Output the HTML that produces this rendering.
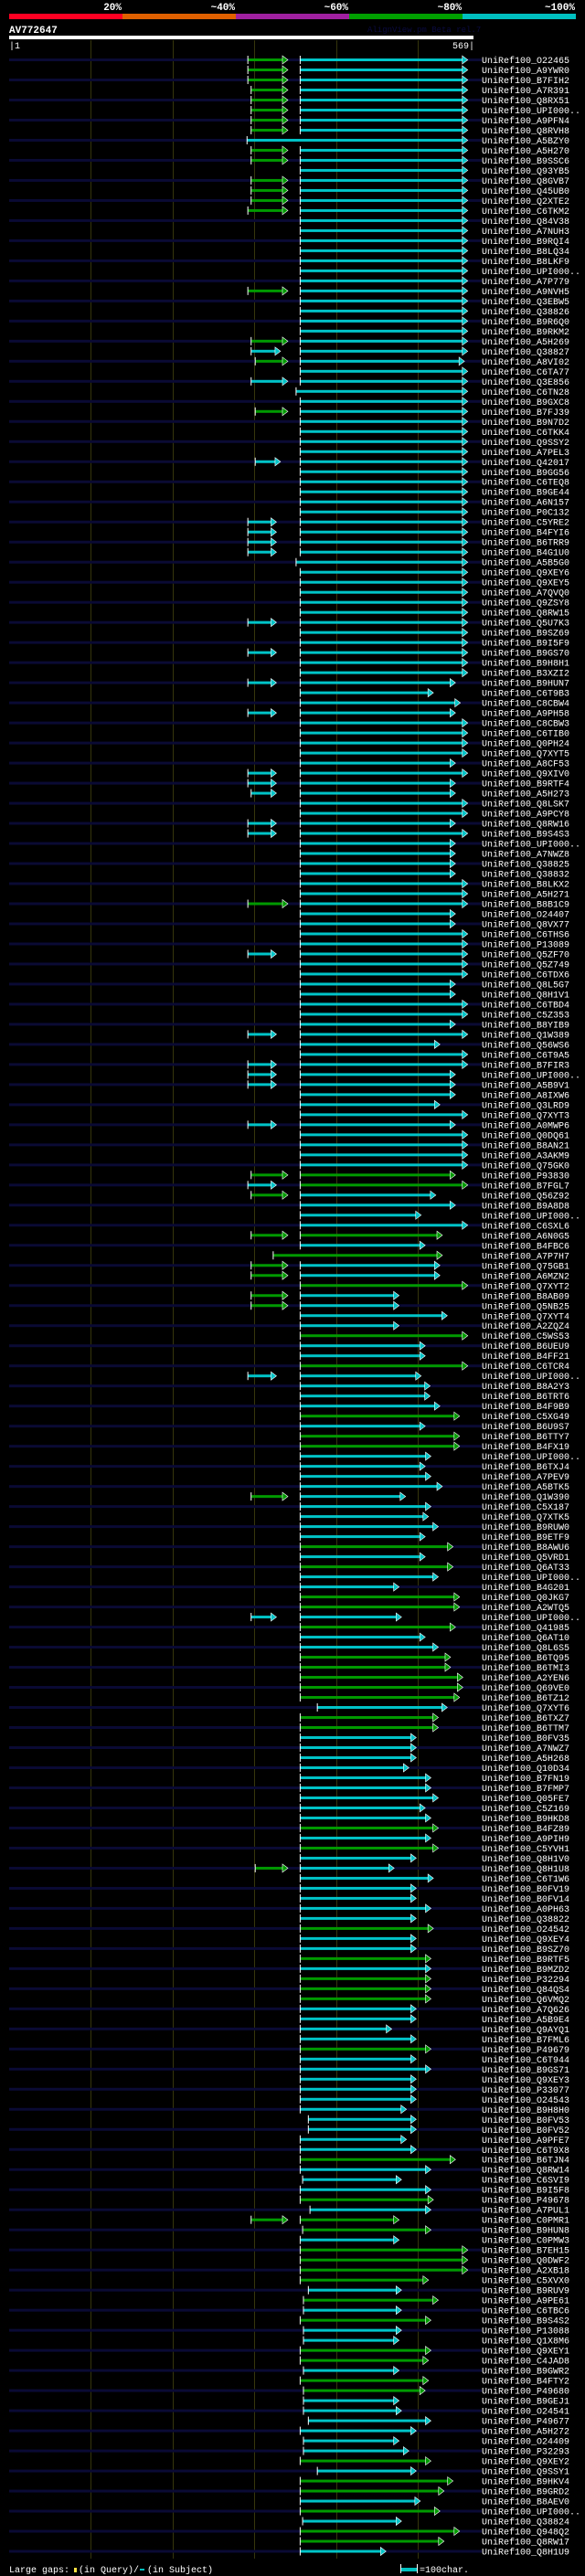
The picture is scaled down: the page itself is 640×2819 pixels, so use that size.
<!DOCTYPE html>
<html><head><meta charset="utf-8"><style>
html,body{margin:0;padding:0;background:#000;}
svg{display:block;}
text{font-family:"Liberation Mono","DejaVu Sans Mono",monospace;}
</style></head><body>
<svg id="chart" width="640" height="2819" viewBox="0 0 640 2819" xmlns="http://www.w3.org/2000/svg">
<rect x="0" y="0" width="640" height="2819" fill="#000"/>
<g>
<text x="133" y="11" fill="#fff" font-size="11" font-weight="bold" text-anchor="end">20%</text>
<text x="257" y="11" fill="#fff" font-size="11" font-weight="bold" text-anchor="end">~40%</text>
<text x="381" y="11" fill="#fff" font-size="11" font-weight="bold" text-anchor="end">~60%</text>
<text x="505" y="11" fill="#fff" font-size="11" font-weight="bold" text-anchor="end">~80%</text>
<text x="629" y="11" fill="#fff" font-size="11" font-weight="bold" text-anchor="end">~100%</text>
<rect x="10" y="15" width="124" height="6" fill="#ff0022"/>
<rect x="134" y="15" width="124" height="6" fill="#e06000"/>
<rect x="258" y="15" width="124" height="6" fill="#a020a0"/>
<rect x="382" y="15" width="124" height="6" fill="#00a000"/>
<rect x="506" y="15" width="124" height="6" fill="#00c0c0"/>
</g>
<text x="10" y="36" fill="#fff" font-size="11" font-weight="bold">AV772647</text>
<text x="402" y="35" fill="#0a0a40" font-size="9">AlignView.pm Beta rel.7</text>
<rect x="10" y="39" width="508" height="4" fill="#fff"/>
<text x="10" y="53" fill="#fff" font-size="10">|1</text>
<text x="519" y="53" fill="#fff" font-size="10" text-anchor="end">569|</text>
<g id="grid"></g>
<g id="rows"></g>
<g>
<text x="10" y="2815" fill="#fff" font-size="10">Large gaps:</text>
<rect x="81" y="2810" width="3" height="5" fill="#ffe040"/>
<text x="86" y="2815" fill="#fff" font-size="10">(in Query)/</text>
<rect x="153" y="2811" width="5" height="2" fill="#00c0c0"/>
<text x="161" y="2815" fill="#fff" font-size="10">(in Subject)</text>
<rect x="439" y="2810" width="17" height="4" fill="#00c0c0"/>
<rect x="438" y="2806" width="1" height="10" fill="#fff"/>
<rect x="456" y="2806" width="1" height="10" fill="#fff"/>
<text x="459" y="2815" fill="#fff" font-size="10">=100char.</text>
</g>
</svg>
<script>
const names = ["O22465","A9YWR0","B7FIH2","A7R391","Q8RX51","UPI000..","A9PFN4","Q8RVH8","A5BZY0","A5H270",
"B9SSC6","Q93YB5","Q8GVB7","Q45UB0","Q2XTE2","C6TKM2","Q84V38","A7NUH3","B9RQI4","B8LQ34",
"B8LKF9","UPI000..","A7P779","A9NVH5","Q3EBW5","Q38826","B9R6Q0","B9RKM2","A5H269","Q38827",
"A8VI02","C6TA77","Q3E856","C6TN28","B9GXC8","B7FJ39","B9N7D2","C6TKK4","Q9SSY2","A7PEL3",
"Q42017","B9GG56","C6TEQ8","B9GE44","A6N157","P0C132","C5YRE2","B4FYI6","B6TRR9","B4G1U0",
"A5B5G0","Q9XEY6","Q9XEY5","A7QVQ0","Q9ZSY8","Q8RW15","Q5U7K3","B9SZ69","B9I5F9","B9GS70",
"B9H8H1","B3XZI2","B9HUN7","C6T9B3","C8CBW4","A9PH58","C8CBW3","C6TIB0","Q0PH24","Q7XYT5",
"A8CF53","Q9XIV0","B9RTF4","A5H273","Q8LSK7","A9PCY8","Q8RW16","B9S4S3","UPI000..","A7NWZ8",
"Q38825","Q38832","B8LKX2","A5H271","B8B1C9","O24407","Q8VX77","C6THS6","P13089","Q5ZF70",
"Q5Z749","C6TDX6","Q8L5G7","Q8H1V1","C6TBD4","C5Z353","B8YIB9","Q1W389","Q56WS6","C6T9A5",
"B7FIR3","UPI000..","A5B9V1","A8IXW6","Q3LRD9","Q7XYT3","A0MWP6","Q0DQ61","B8AN21","A3AKM9",
"Q75GK0","P93830","B7FGL7","Q56Z92","B9A8D8","UPI000..","C6SXL6","A6N0G5","B4FBC6","A7P7H7",
"Q75GB1","A6MZN2","Q7XYT2","B8AB09","Q5NB25","Q7XYT4","A2ZQZ4","C5WS53","B6UEU9","B4FF21",
"C6TCR4","UPI000..","B8A2Y3","B6TRT6","B4F9B9","C5XG49","B6U9S7","B6TTY7","B4FX19","UPI000..",
"B6TXJ4","A7PEV9","A5BTK5","Q1W390","C5X187","Q7XTK5","B9RUW0","B9ETF9","B8AWU6","Q5VRD1",
"Q6AT33","UPI000..","B4G201","Q0JKG7","A2WTQ5","UPI000..","Q41985","Q6AT10","Q8L6S5","B6TQ95",
"B6TMI3","A2YEN6","Q69VE0","B6TZ12","Q7XYT6","B6TXZ7","B6TTM7","B0FV35","A7NWZ7","A5H268",
"Q10D34","B7FN19","B7FMP7","Q05FE7","C5Z169","B9HKD8","B4FZ89","A9PIH9","C5YVH1","Q8H1V0",
"Q8H1U8","C6T1W6","B0FV19","B0FV14","A0PH63","Q38822","O24542","Q9XEY4","B9SZ70","B9RTF5",
"B9MZD2","P32294","Q84QS4","Q6VMQ2","A7Q626","A5B9E4","Q9AYQ1","B7FML6","P49679","C6T944",
"B9GS71","Q9XEY3","P33077","O24543","B9H8H0","B0FV53","B0FV52","A9PFE7","C6T9X8","B6TJN4",
"Q8RW14","C6SVI9","B9I5F8","P49678","A7PUL1","C0PMR1","B9HUN8","C0PMW3","B7EH15","Q0DWF2",
"A2XB18","C5XVX0","B9RUV9","A9PE61","C6TBC6","B9S4S2","P13088","Q1X8M6","Q9XEY1","C4JAD8",
"B9GWR2","B4FTY2","P49680","B9GEJ1","O24541","P49677","A5H272","O24409","P32293","Q9XEY2",
"Q9SSY1","B9HKV4","B9GRD2","B8AEV0","UPI000..","Q38824","Q948Q2","Q8RW17","Q8H1U9"];
const h1Row   = [0,1,2,3,4,5,6,7,9,10,12,13,14,15,23,28,29,30,32,35,40,46,47,48,49,56,59,62,65,71,72,73,76,77,84,89,97,100,101,102,106,111,112,113,117,120,121,123,124,131,143,155,180,215];
const h1Start = [293,293,293,297,297,297,297,297,297,297,297,297,297,293,293,297,297,302,297,302,302,293,293,293,293,293,293,293,293,293,293,297,293,293,293,293,293,293,293,293,293,297,293,297,297,297,297,297,297,293,297,297,302,297];
const h1End   = [342,342,342,342,342,342,342,342,342,342,342,342,342,342,342,342,333,342,342,342,333,328,328,328,328,328,328,328,328,328,328,328,328,328,342,328,328,328,328,328,328,342,328,342,342,342,342,342,342,328,342,328,342,342];
const h1Color = "gggggggggggggggg" + "cgcgc" + "ccccccccccccc" + "g" + "cccccc" + "gcgggggg" + "c" + "g" + "c" + "gg";
const h2Start = [357,357,357,357,357,357,357,357,292,357, 357,357,357,357,357,357,357,357,357,357,
357,357,357,357,357,357,357,357,357,357, 357,357,357,352,357,357,357,357,357,357,
357,357,357,357,357,357,357,357,357,357, 352,357,357,357,357,357,357,357,357,357,
357,357,357,357,357,357,357,357,357,357, 357,357,357,357,357,357,357,357,357,357,
357,357,357,357,357,357,357,357,357,357, 357,357,357,357,357,357,357,357,357,357,
357,357,357,357,357,357,357,357,357,357, 357,357,357,357,357,357,357,357,357,324,
357,357,357,357,357,357,357,357,357,357, 357,357,357,357,357,357,357,357,357,357,
357,357,357,357,357,357,357,357,357,357, 357,357,357,357,357,357,357,357,357,357,
357,357,357,357,378,357,357,357,357,357, 357,357,357,357,357,357,357,357,357,357,
357,357,357,357,357,357,357,357,357,357, 357,357,357,357,357,357,357,357,357,357,
357,357,357,357,357,367,367,357,357,357, 357,360,357,357,369,357,360,357,357,357,
357,357,367,361,361,357,361,361,357,357, 361,357,361,361,361,367,357,361,361,357,
378,357,357,357,357,360,357,357,357];
const h2End = [562,562,562,562,562,562,562,562,562,562, 562,562,562,562,562,562,562,562,562,562,
562,562,562,562,562,562,562,562,562,562, 558,562,562,562,562,562,562,562,562,562,
562,562,562,562,562,562,562,562,562,562, 562,562,562,562,562,562,562,562,562,562,
562,562,547,520,553,547,562,562,562,562, 547,562,547,547,562,562,547,562,547,547,
547,547,562,562,562,547,547,562,562,562, 562,562,547,547,562,562,547,562,528,562,
562,547,547,547,528,562,547,562,562,562, 562,547,562,523,547,505,562,531,510,531,
528,528,562,478,478,537,478,562,510,510, 562,505,516,516,528,552,510,552,552,517,
510,517,531,486,517,514,526,510,544,510, 544,526,478,552,552,481,547,510,526,541,
541,556,556,552,537,526,526,499,499,499, 490,517,517,526,510,517,526,517,526,499,
472,520,499,499,517,499,520,499,499,517, 517,517,517,517,499,499,469,499,517,499,
517,499,499,499,487,499,499,487,499,547, 517,481,517,520,517,478,517,478,562,562,
562,514,481,526,481,517,481,478,517,514, 478,514,510,478,481,517,499,478,490,517,
499,544,533,504,528,481,552,533,462];
const greenRows = [111,112,117,119,122,127,130,135,137,138,148,150,153,154,156,159,160,161,162,163,165,166,176,178,186,189,191,192,193,198,209,213,215,216,218,219,220,221,223,225,228,229,231,232,239,241,242,244,246,247];
const gridTicks = [101,201,301,401,501];

const NS = "http://www.w3.org/2000/svg";
const X0 = 10, X1 = 518, QLEN = 569;
const xScale = p => X0 + (p - 1) * (X1 - X0) / (QLEN - 1);
const ROW0 = 65.5, ROWH = 10.994;
const yScale = i => ROW0 + i * ROWH;
const COL = {g:"#009a00", c:"#00c4c8"};

function mk(tag, attrs, parent) {
  const el = document.createElementNS(NS, tag);
  for (const k in attrs) el.setAttribute(k, attrs[k]);
  parent.appendChild(el);
  return el;
}
const grid = document.getElementById("grid");
gridTicks.forEach(t => {
  const x = Math.round(xScale(t)) + 0.5;
  const l = mk("line", {x1:x, x2:x, y1:44, y2:2800, stroke:"#36360c", "stroke-width":1}, grid);
  
  
});
const rowsG = document.getElementById("rows");
function drawHsp(g, s, e, color, y) {
  const xs = xScale(s), xe = xScale(e);
  const c = COL[color];
  const bar = mk("rect", {x:xs, y:y-1.5, width:Math.max(0, xe - 6 - xs), height:3, fill:c}, g);
  
  
  const tick = mk("rect", {x:xs-0.5, y:y-4.5, width:1, height:9, fill:"#fff"}, g);
  
  
  const tri = mk("polygon", {points:`${xe-6},${y-4.5} ${xe},${y} ${xe-6},${y+4.5}`, fill:c, stroke:"#fff", "stroke-width":0.6}, g);
  
  
}
names.forEach((n, i) => {
  const y = yScale(i);
  const g = mk("g", {}, rowsG);
  
  
  if (i % 2 === 0) {
    const b = mk("rect", {x:10, y:y-1.5, width:517, height:3, fill:"#0a0a34"}, g);
    
    
  }
  const k = h1Row.indexOf(i);
  if (k >= 0) drawHsp(g, h1Start[k], h1End[k], h1Color[k], y);
  drawHsp(g, h2Start[i], h2End[i], greenRows.includes(i) ? "g" : "c", y);
  const t = mk("text", {x:527, y:y+3.5, fill:"#fff", "font-size":10}, g);
  t.textContent = "UniRef100_" + n;
  
  
});
</script>
</body></html>
